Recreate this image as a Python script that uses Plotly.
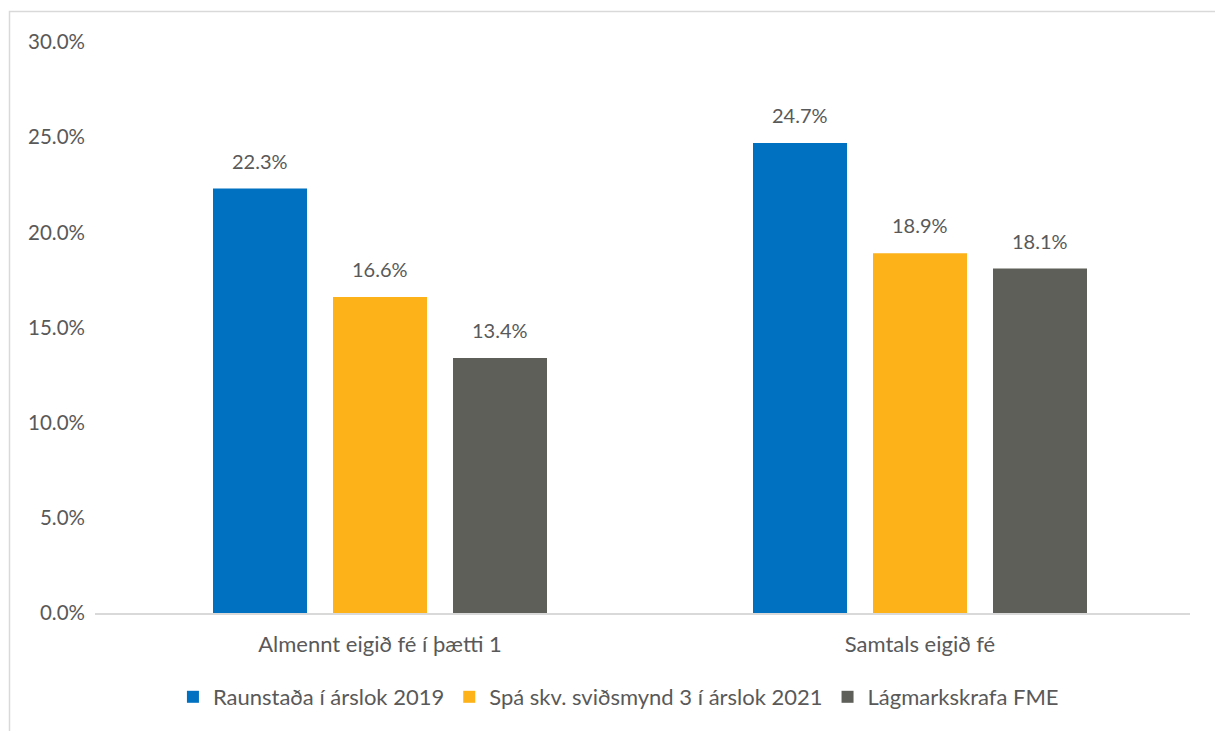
import plotly.graph_objects as go

categories = ["Almennt eigið fé í þætti 1", "Samtals eigið fé"]
series_names = ["Raunstaða í árslok 2019", "Spá skv. sviðsmynd 3 í árslok 2021", "Lágmarkskrafa FME"]
raunstada = [22.3, 24.7]
spa = [16.6, 18.9]
lagmark = [13.4, 18.1]
colors = ["#0070C0", "#FDB21A", "#5E5F58"]
y_ticks = [0, 5, 10, 15, 20, 25, 30]

FONT = "Lato, 'Open Sans', sans-serif"
TXT = "#595959"

W, H = 1215, 731
L, R, T, B = 95, 25, 42, 118
pw, ph = W - L - R, H - T - B
cat_px = 540.0  # pixels per category on the x axis

bar_w = 94 / cat_px
slot = 120 / cat_px
offsets = [-slot - bar_w / 2, -bar_w / 2, slot - bar_w / 2]

fig = go.Figure()
annotations = []
for name, vals, col, off in zip(series_names, [raunstada, spa, lagmark], colors, offsets):
    fig.add_trace(go.Bar(
        x=[0, 1], y=vals, name=name, marker=dict(color=col, line=dict(width=0)),
        width=bar_w, offset=off,
    ))
    for i, v in enumerate(vals):
        annotations.append(dict(
            x=i + off + bar_w / 2, y=v, xref="x", yref="y", text=f"{v:.1f}%",
            showarrow=False, yanchor="bottom", yshift=14,
            font=dict(size=20, color=TXT, family=FONT),
        ))

def px_x(p):
    return (p - L) / pw

def px_y(p):
    return (H - B - p) / ph

fig.update_layout(
    width=W, height=H,
    margin=dict(l=L, r=R, t=T, b=B, pad=0),
    paper_bgcolor="white", plot_bgcolor="white",
    barmode="overlay",
    font=dict(family=FONT, size=20, color=TXT),
    showlegend=True,
    legend=dict(orientation="h", xref="container", x=0.509, xanchor="center",
                yref="container", y=(H - 697) / H, yanchor="middle",
                font=dict(size=22, color=TXT, family=FONT),
                itemwidth=30, traceorder="normal"),
    xaxis=dict(range=[-0.5278, 1.5], tickvals=[0, 1], ticktext=categories,
               showgrid=False, zeroline=False, showline=True, linecolor="#D9D9D9",
               linewidth=2, ticks="", tickfont=dict(size=22, color=TXT, family=FONT),
               ticklabelstandoff=11),
    yaxis=dict(range=[0, 30], tickvals=y_ticks, ticktext=[f"{v:.1f}%" for v in y_ticks],
               showgrid=False, zeroline=False, showline=False, ticks="",
               tickfont=dict(size=20.5, color=TXT, family=FONT), ticklabelstandoff=9),
    annotations=annotations,
    shapes=[dict(type="rect", xref="paper", yref="paper",
                 x0=px_x(9.5), x1=px_x(1230), y0=px_y(11.5), y1=px_y(760),
                 line=dict(color="#D9D9D9", width=1.5), fillcolor="rgba(0,0,0,0)", layer="below")],
)

fig.write_html("out.html")
